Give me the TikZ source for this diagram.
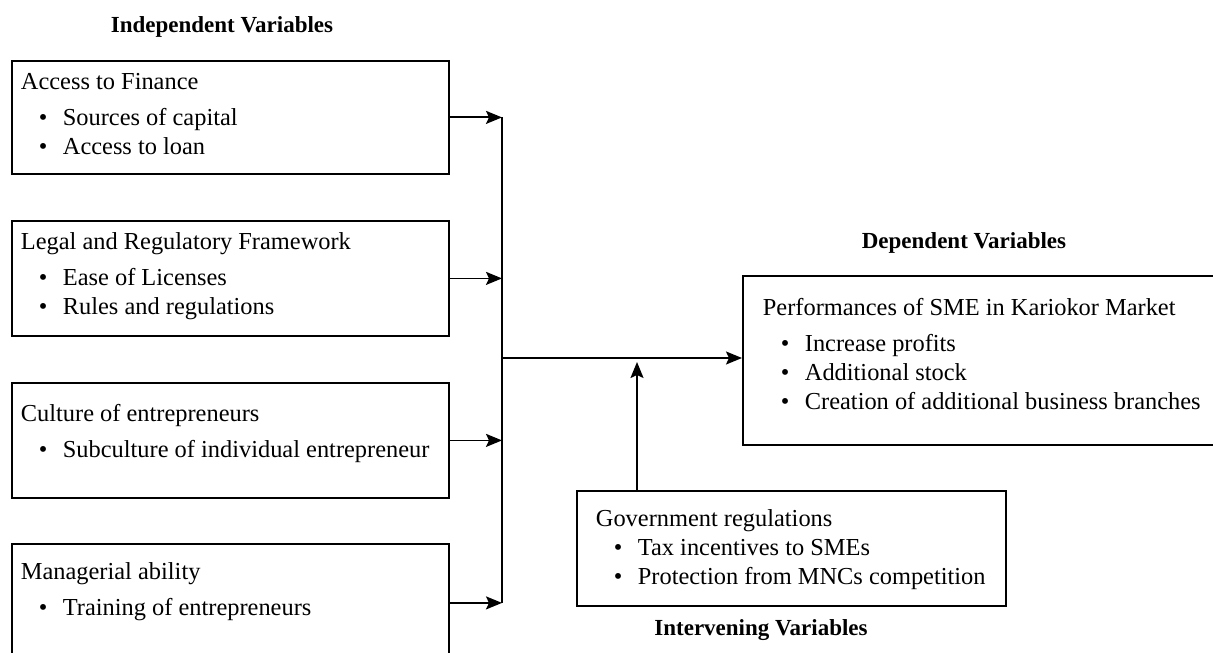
\documentclass[tikz,border=0pt]{standalone}
\usepackage{fontspec}
\setmainfont{Liberation Serif}
\usetikzlibrary{arrows.meta}

% bullet line and box body (sizes in px of the reference, 1px = 0.5pt)
\newcommand{\bul}[1]{\par\hspace*{9pt}\makebox[12pt][l]{\textbullet}#1}
\newcommand{\vhead}[1]{#1\par\vspace{3.5pt}}
\newcommand{\vbody}[4]{\parbox[t][\dimexpr #2pt/2\relax][t]{\dimexpr #1pt/2\relax}{\vspace*{\dimexpr #3pt/2\relax}#4}}

\begin{document}
\begin{tikzpicture}[x=0.5pt, y=-0.5pt, line join=miter, >={Stealth[length=8pt,width=6.5pt,inset=1.5pt]}]
	\tikzset{
		varbox/.style={draw, line width=0.9pt, anchor=north west, inner xsep=4.5pt, inner ysep=0pt,
			font=\fontsize{12.2}{14.5}\selectfont},
		vartitle/.style={anchor=base, inner sep=0pt, font=\fontsize{11.5}{14}\selectfont\bfseries},
		link/.style={line width=0.9pt}
	}
	\useasboundingbox (0,0) rectangle (1213,652);
	\clip (0,0) rectangle (1213,652);
	
	% independent variables
	\node[vartitle] (indep) at (222,33) {Independent Variables};
	\node[varbox] (fin) at (11,60) {\vbody{419}{113}{12}{\vhead{Access to Finance}\bul{Sources of capital}\bul{Access to loan}}};
	\node[varbox] (legal) at (11,220) {\vbody{419}{115}{12}{\vhead{Legal and Regulatory Framework}\bul{Ease of Licenses}\bul{Rules and regulations}}};
	\node[varbox] (cult) at (11,382) {\vbody{419}{115}{21}{\vhead{Culture of entrepreneurs}\bul{Subculture of individual entrepreneur}}};
	\node[varbox] (mgr) at (11,543) {\vbody{419}{118}{19}{\vhead{Managerial ability}\bul{Training of entrepreneurs}}};
	
	% dependent variables
	\node[vartitle] (dep) at (964,248) {Dependent Variables};
	\node[varbox, inner xsep=10pt] (perf) at (742,275) {\vbody{440}{169}{22}{\vhead{Performances of SME in Kariokor Market}\bul{Increase profits}\bul{Additional stock}\bul{Creation of additional business branches}}};
	
	% intervening variables
	\node[varbox, inner xsep=9.5pt] (gov) at (576,490) {\vbody{391}{115}{19}{Government regulations\bul{Tax incentives to SMEs}\bul{Protection from MNCs competition}}};
	\node[vartitle] (interv) at (761,635) {Intervening Variables};
	
	% connectors
	\coordinate (bus) at (502,358);
	\coordinate (meet) at (637,358);
	\foreach \b in {fin,legal,cult,mgr}
		\draw[link,->] (\b.east) -- (\b.east -| bus);
	\draw[link] (bus |- fin.east) -- (bus |- mgr.east);
	\draw[link,->] (bus) -- (bus -| perf.west);
	\draw[link,->,shorten >=2pt] (meet |- gov.north) -- (meet);
\end{tikzpicture}
\end{document}
